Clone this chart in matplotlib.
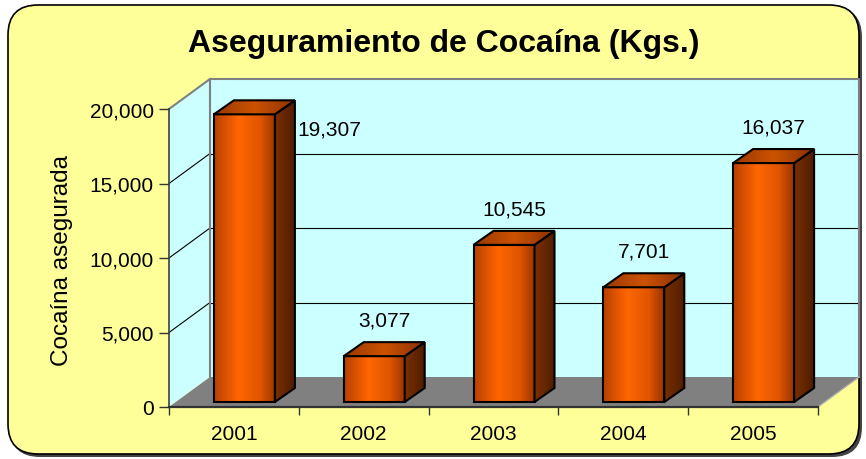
import matplotlib
matplotlib.use("Agg")
import matplotlib.pyplot as plt
import numpy as np
from matplotlib.patches import Polygon, FancyBboxPatch
from matplotlib.lines import Line2D
from matplotlib.colors import LinearSegmentedColormap
from matplotlib.ticker import FuncFormatter

# data
years = ["2001", "2002", "2003", "2004", "2005"]
seized_kg = [19307, 3077, 10545, 7701, 16037]
y_ticks = [0, 5000, 10000, 15000, 20000]

plt.rcParams["font.family"] = ["Liberation Sans", "DejaVu Sans"]

W, H = 866, 460
fig = plt.figure(figsize=(W / 100, H / 100), dpi=100)
fig.patch.set_facecolor("white")

# background panel, pixel coordinates
bg = fig.add_axes([0, 0, 1, 1], zorder=0)
bg.set_xlim(0, W)
bg.set_ylim(H, 0)
bg.axis("off")
bg.add_patch(FancyBboxPatch((10, 8), 852, 450, boxstyle="round,pad=0,rounding_size=30",
                            fc="#444444", ec="none"))
bg.add_patch(FancyBboxPatch((8, 6), 851, 449, boxstyle="round,pad=0,rounding_size=30",
                            fc="#FFFF99", ec="black", lw=1.2))
bg.text(444, 44, "Aseguramiento de Cocaína (Kgs.)", ha="center", va="center",
        fontsize=23, fontweight="bold")
bg.text(62, 261, "Cocaína asegurada", rotation=90, ha="center", va="center",
        fontsize=17.5)

# plot area (front plane)
ax = fig.add_axes([169 / W, (H - 408) / H, 649 / W, 298 / H], zorder=1)
ax.patch.set_visible(False)
n = len(years)
ymax = y_ticks[-1]
px_x = n / 649.0
px_y = ymax / 298.0

wall_dx, wall_dy = 41 * px_x, 30 * px_y
bar_dx, bar_dy = 20 * px_x, 14 * px_y
bar_w = 61 * px_x

# walls and floor
side = Polygon([(0, 0), (wall_dx, wall_dy), (wall_dx, ymax + wall_dy), (0, ymax)],
               fc="#CCFFFF", ec="none", zorder=0.5, clip_on=False)
back = Polygon([(wall_dx, wall_dy), (n + wall_dx, wall_dy), (n + wall_dx, ymax + wall_dy),
                (wall_dx, ymax + wall_dy)], fc="#CCFFFF", ec="none", zorder=0.5, clip_on=False)
floor = Polygon([(0, 0), (n, 0), (n + wall_dx, wall_dy), (wall_dx, wall_dy)],
                fc="#808080", ec="none", zorder=0.6, clip_on=False)
for p in (side, back, floor):
    ax.add_patch(p)

for t in y_ticks[1:-1]:
    ax.add_line(Line2D([wall_dx, n + wall_dx], [t + wall_dy, t + wall_dy], color="black",
                       lw=0.8, zorder=0.7, clip_on=False))
    ax.add_line(Line2D([0, wall_dx], [t, t + wall_dy], color="black", lw=0.8,
                       zorder=0.7, clip_on=False))
edge_kw = dict(color="#808080", lw=1.5, zorder=0.8, clip_on=False)
ax.add_line(Line2D([0, wall_dx, n + wall_dx, n + wall_dx],
                   [ymax, ymax + wall_dy, ymax + wall_dy, wall_dy], **edge_kw))
ax.add_line(Line2D([wall_dx, wall_dx], [wall_dy, ymax + wall_dy], **edge_kw))
ax.add_line(Line2D([n, n + wall_dx], [0, wall_dy], color="#B0B0B0", lw=1,
                   zorder=0.8, clip_on=False))


def grad_face(verts, colors, z):
    verts = np.array(verts)
    x0, x1 = verts[:, 0].min(), verts[:, 0].max()
    y0, y1 = verts[:, 1].min(), verts[:, 1].max()
    cmap = LinearSegmentedColormap.from_list("face", colors)
    img = ax.imshow(np.linspace(0, 1, 256)[None, :], cmap=cmap, extent=(x0, x1, y0, y1),
                    origin="lower", aspect="auto", interpolation="bilinear", zorder=z)
    poly = Polygon(verts, closed=True, fc="none", ec="black", lw=1.5, zorder=z + 0.01,
                   clip_on=False)
    ax.add_patch(poly)
    img.set_clip_box(fig.bbox)
    img.set_clip_path(poly)


front_cols = [(0, "#B84000"), (0.4, "#FF6600"), (0.75, "#E05500"), (1, "#9A3500")]
side_cols = [(0, "#7A3000"), (1, "#4E1C00")]
top_cols = [(0, "#9A3800"), (0.5, "#CC5200"), (1, "#8A3000")]

for i, v in enumerate(seized_kg):
    xl = i + 0.5 - bar_w / 2 + (wall_dx - bar_dx) / 2
    xr = xl + bar_w
    yb = 5 * px_y
    yt = yb + v
    z = 2 + i * 0.1
    grad_face([(xl, yb), (xr, yb), (xr, yt), (xl, yt)], front_cols, z)
    grad_face([(xr, yb), (xr + bar_dx, yb + bar_dy), (xr + bar_dx, yt + bar_dy), (xr, yt)],
              side_cols, z + 0.02)
    grad_face([(xl, yt), (xr, yt), (xr + bar_dx, yt + bar_dy), (xl + bar_dx, yt + bar_dy)],
              top_cols, z + 0.04)
    label = f"{v:,}"
    ly = yt + bar_dy + 22 * px_y
    if ly > ymax:
        ax.text(xr + bar_dx + 2 * px_x, yt - 15 * px_y, label, ha="left", va="center",
                fontsize=15, zorder=5, clip_on=False)
    else:
        ax.text((xl + xr) / 2 + bar_dx / 2, ly, label, ha="center", va="center",
                fontsize=15, zorder=5, clip_on=False)

# axes
ax.set_xlim(0, n)
ax.set_ylim(0, ymax)
ax.set_yticks(y_ticks)
ax.yaxis.set_major_formatter(FuncFormatter(lambda v, _: f"{v:,.0f}"))
ax.set_xticks(range(n + 1))
ax.set_xticklabels([""] * (n + 1))
ax.set_xticks(np.arange(n) + 0.5, minor=True)
ax.set_xticklabels(years, minor=True)
ax.tick_params(axis="y", direction="out", length=7, width=1, color="#333333",
               labelsize=15, pad=4)
ax.tick_params(axis="x", which="major", direction="out", length=6, width=1, color="#333333")
ax.tick_params(axis="x", which="minor", length=0, labelsize=15, pad=12)
for s in ("top", "right"):
    ax.spines[s].set_visible(False)
ax.spines["left"].set_color("#404040")
ax.spines["left"].set_linewidth(1.2)
ax.spines["bottom"].set_color("#333333")
ax.spines["bottom"].set_linewidth(1.6)

fig.savefig("out.png", dpi=100)
